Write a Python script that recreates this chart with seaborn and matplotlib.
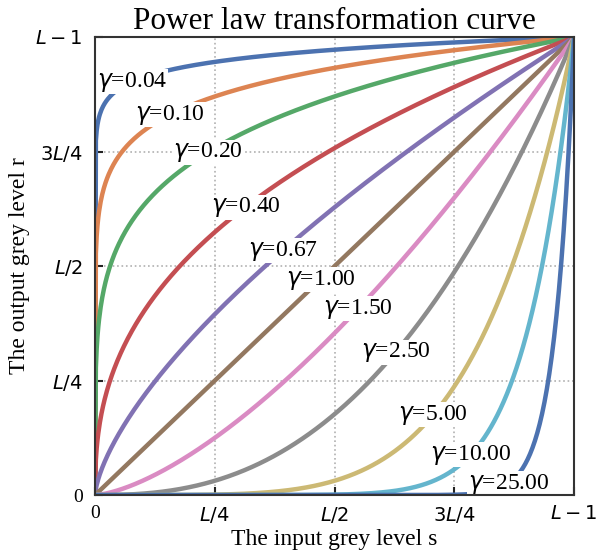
import numpy as np
import matplotlib
matplotlib.use('Agg')
import matplotlib.pyplot as plt
import seaborn as sns

# ========== DATA ==========
gammas = [0.04, 0.10, 0.20, 0.40, 0.67, 1.00, 1.50, 2.50, 5.00, 10.00, 25.00]
# label anchor on the input axis (grey level out of 255)
label_s = [20, 40, 60, 80, 100, 120, 140, 160, 180, 200, 220]
tick_pos = [0, 0.25, 0.5, 0.75, 1.0]
tick_labels = ['0', r'$L/4$', r'$L/2$', r'$3L/4$', r'$L-1$']

# ========== STYLE ==========
sns.set_style("ticks")
plt.rcParams['font.family'] = ['Liberation Serif', 'DejaVu Serif']
plt.rcParams['mathtext.fontset'] = 'dejavusans'

colors = sns.color_palette('deep', 10)

fig = plt.figure(figsize=(5.98, 5.55), dpi=100)
ax = fig.add_axes([0.159, 0.108, 0.801, 0.825])

s = np.linspace(0, 1, 600)
for i, g in enumerate(gammas):
    c = colors[i % 10]
    sns.lineplot(x=s, y=s ** g, ax=ax, color=c, linewidth=3.2, legend=False)
    xs = label_s[i] / 255
    ax.text(xs, xs ** g, r'$\gamma$=' + f'{g:.2f}', fontsize=17, ha='center', va='center',
            color='black', bbox=dict(facecolor='white', edgecolor='none', pad=0.3), zorder=5)

ax.set_xlim(0, 1)
ax.set_ylim(0, 1)
ax.set_xticks(tick_pos)
ax.set_yticks(tick_pos)
ax.set_xticklabels(tick_labels)
ax.set_yticklabels(tick_labels)
ax.tick_params(direction='in', length=6, width=1.5, color='#222222', labelsize=14,
               labelcolor='black')
ax.tick_params(axis='x', pad=7)
ax.tick_params(axis='y', pad=9)
ax.grid(True, linestyle=':', color='#b0b0b0', linewidth=1.2)
for sp in ax.spines.values():
    sp.set_linewidth(1.5)
    sp.set_color('#333333')
    sp.set_zorder(6)

ax.set_title('Power law transformation curve', fontsize=22.5, pad=6, color='black')
ax.set_xlabel('The input grey level s', fontsize=17, color='black', labelpad=3)
ax.set_ylabel('The output grey level r', fontsize=17, color='black', labelpad=4)

plt.savefig('out.png', dpi=100)
